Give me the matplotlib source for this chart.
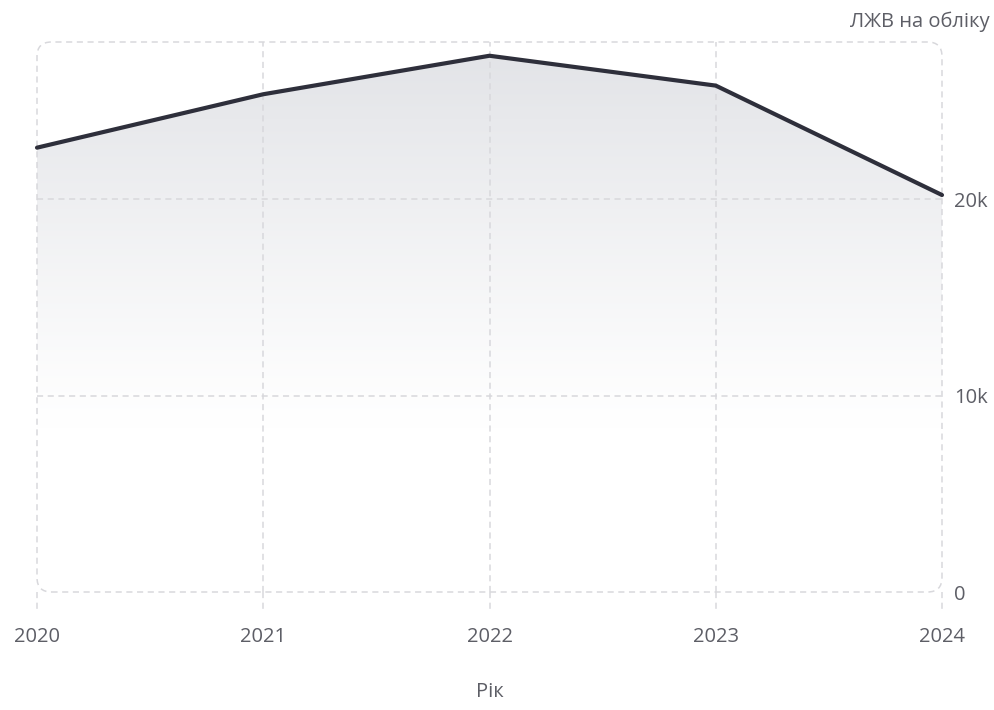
import matplotlib

matplotlib.use("Agg")
import matplotlib.pyplot as plt
import numpy as np
from matplotlib.patches import FancyBboxPatch, Polygon
from matplotlib.ticker import FuncFormatter
import matplotlib.transforms as mtransforms

plt.rcParams["font.family"] = ["Open Sans", "DejaVu Sans"]

years = [2020, 2021, 2022, 2023, 2024]
on_record = [22620, 25340, 27300, 25780, 20210]
y_ticks = [0, 10000, 20000]

LINE = "#2e2f3b"
GRID = "#d8d8dc"
TEXT = "#5d5e66"

fig = plt.figure(figsize=(9.95, 7.1), dpi=100)
ax = fig.add_axes([37 / 995, 1 - 592 / 710, 905 / 995, 550 / 710])
ax.set_xlim(years[0], years[-1])
ax.set_ylim(0, 28000)

# gradient under the line: grey at the top, fading to white around 10k
grad = np.linspace(0, 1, 256).reshape(-1, 1)
grad = np.clip((grad - 0.3) / 0.7, 0, 1) ** 1.1
top = np.array([0.885, 0.89, 0.905])
cols = 1 - grad[..., None] * (1 - top)
img = ax.imshow(cols, extent=[years[0], years[-1], 0, 28000], origin="lower",
                aspect="auto", zorder=1, interpolation="bilinear")
poly = Polygon(list(zip(years, on_record)) + [(years[-1], 0), (years[0], 0)],
               closed=True, transform=ax.transData, facecolor="none", edgecolor="none")
ax.add_patch(poly)
img.set_clip_path(poly)

ax.plot(years, on_record, color=LINE, lw=3.0, solid_joinstyle="round",
        solid_capstyle="round", zorder=4, clip_on=False)

# dashed grid inside a rounded frame
dash = dict(color=GRID, lw=1.1, ls=(0, (4, 3)), zorder=2)
for x in years[1:-1]:
    ax.plot([x, x], [0, 28000], **dash)
for y in y_ticks[1:]:
    ax.plot([years[0], years[-1]], [y, y], **dash)
frame = FancyBboxPatch((0, 0), 1, 1, boxstyle="round,pad=0,rounding_size=0.016",
                       mutation_aspect=905 / 550, transform=ax.transAxes,
                       facecolor="none", edgecolor=GRID, lw=1.1,
                       ls=(0, (4, 3)), zorder=2, clip_on=False)
ax.add_patch(frame)

# short dashed ticks below the frame
tick_tr = mtransforms.blended_transform_factory(ax.transData, ax.transAxes)
for x in years:
    ax.plot([x, x], [0, -0.035], transform=tick_tr, clip_on=False, **dash)

for s in ax.spines.values():
    s.set_visible(False)

ax.set_xticks(years)
ax.set_xticklabels([str(y) for y in years])
ax.yaxis.tick_right()
ax.set_yticks(y_ticks)
ax.yaxis.set_major_formatter(FuncFormatter(lambda v, _: "0" if v == 0 else f"{v / 1000:.0f}k"))
ax.tick_params(axis="x", length=0, pad=25, labelsize=14.5, labelcolor=TEXT)
ax.tick_params(axis="y", length=0, pad=9, labelsize=14.5, labelcolor=TEXT)
ax.grid(False)

fig.text(990 / 995, 1 - 22 / 710, "ЛЖВ на обліку", ha="right", va="center",
         fontsize=14.5, color=TEXT)
fig.text(490 / 995, 1 - 692 / 710, "Рік", ha="center", va="center",
         fontsize=14.5, color=TEXT)

fig.savefig("out.png", dpi=100, facecolor="white")
